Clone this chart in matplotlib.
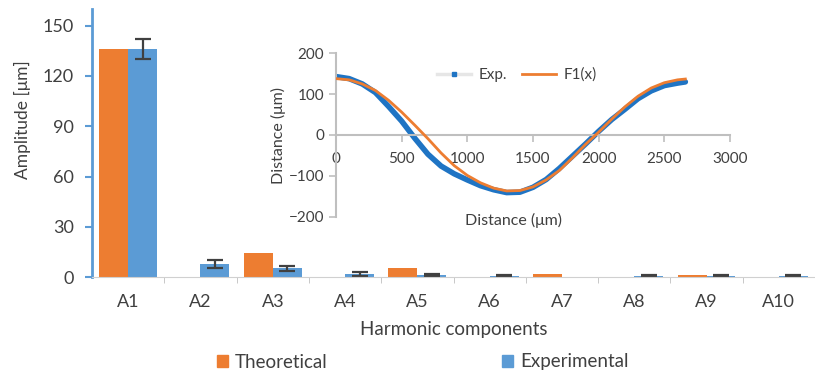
import numpy as np
import matplotlib
matplotlib.use("Agg")
import matplotlib.pyplot as plt
from matplotlib.lines import Line2D
from matplotlib.patches import Patch

plt.rcParams['font.family'] = ['Lato', 'DejaVu Sans']

# harmonic amplitudes (um)
harmonics = ['A1', 'A2', 'A3', 'A4', 'A5', 'A6', 'A7', 'A8', 'A9', 'A10']
theoretical = [136, 0, 14.5, 0, 5.3, 0, 1.8, 0, 1.0, 0]
experimental = [136, 7.8, 5.2, 1.8, 1.0, 0.4, 0, 0.4, 0.4, 0.4]
exp_err = [6, 2.2, 1.5, 1.0, 0.7, 0.5, np.nan, 0.5, 0.5, 0.5]

# profile along the sample (um)
dist = [0, 100, 200, 300, 400, 500, 600, 700, 800, 900, 1000, 1100, 1200, 1300,
        1400, 1500, 1600, 1700, 1800, 1900, 2000, 2100, 2200, 2300, 2400, 2500,
        2600, 2660]
exp_profile = [143, 138, 125, 104, 70, 34, -8, -47, -76, -95, -110, -124, -134,
               -141, -140, -128, -109, -82, -52, -22, 9, 38, 63, 89, 108, 121,
               127, 130]
f1_profile = [138, 135, 125, 109, 85, 56, 24, -9, -44, -75, -99, -117, -130,
              -137, -136, -127, -110, -87, -56, -23, 7, 39, 69, 95, 115, 128,
              135, 137]

orange = '#ED7D31'
blue = '#5B9BD5'
txt = '#404040'

W, H = 815, 376
fig = plt.figure(figsize=(W / 100, H / 100), dpi=100)

# main bar chart
x0, y0 = 92, 277
ax = fig.add_axes([x0 / W, 1 - y0 / H, (W - x0) / W, (y0 - 9) / H])
x = np.arange(len(harmonics))
bw = 0.4
ax.bar(x - bw / 2, theoretical, bw, color=orange, label='Theoretical')
ax.bar(x + bw / 2, experimental, bw, color=blue, label='Experimental')
ax.errorbar(x + bw / 2, experimental, yerr=exp_err, fmt='none', ecolor='#404040',
            elinewidth=1.6, capsize=5.5, capthick=1.6)

cat_w = 73.2
ax.set_xlim(-0.5, -0.5 + (W - x0) / cat_w)
ax.set_ylim(0, 160)
ax.set_yticks([0, 30, 60, 90, 120, 150])
ax.set_xticks(x)
ax.set_xticklabels(harmonics)
ax.set_xticks(np.arange(len(harmonics)) + 0.5, minor=True)
ax.tick_params(axis='x', which='major', length=0, pad=12, labelsize=13, colors=txt)
ax.tick_params(axis='x', which='minor', length=4, color='#BFBFBF')
ax.tick_params(axis='y', length=5, width=1.5, color=blue, labelsize=13,
               labelcolor=txt, pad=8)
for s in ['top', 'right']:
    ax.spines[s].set_visible(False)
ax.spines['left'].set_color(blue)
ax.spines['left'].set_linewidth(2)
ax.spines['bottom'].set_color('#D0D0D0')
ax.spines['bottom'].set_linestyle((0, (1, 1)))
ax.set_ylabel('Amplitude [μm]', fontsize=12.5, color=txt)
ax.yaxis.set_label_coords((31 - x0) / (W - x0), (y0 - 120) / (y0 - 9))
ax.set_xlabel('Harmonic components', fontsize=13.5, color=txt, labelpad=8)

fig.legend(handles=[Patch(color=orange), Patch(color=blue)],
           labels=['Theoretical', 'Experimental'], loc='center',
           bbox_to_anchor=(423 / W, 1 - 362 / H), ncol=2, frameon=False,
           fontsize=13.5, handlelength=0.55, handleheight=0.55, handletextpad=0.4,
           columnspacing=9.3, labelcolor=txt)

# inset with the measured and fitted profile
il, ir, it, ib = 336, 730, 53.3, 216.7
ins = fig.add_axes([il / W, 1 - ib / H, (ir - il) / W, (ib - it) / H])
ins.patch.set_alpha(0)
ins.plot(dist, exp_profile, color='#1F74C4', lw=4, solid_capstyle='round',
         zorder=2)
ins.plot(dist, f1_profile, color=orange, lw=2, zorder=3)
ins.set_xlim(0, 3000)
ins.set_ylim(-200, 200)
ins.set_xticks(range(0, 3001, 500))
ins.set_yticks(range(-200, 201, 100))
for s in ['top', 'right']:
    ins.spines[s].set_visible(False)
ins.spines['bottom'].set_position(('data', 0))
ins.spines['bottom'].set_color('#BFBFBF')
ins.spines['left'].set_color('#BFBFBF')
ins.spines['bottom'].set_linewidth(1.5)
ins.spines['left'].set_linewidth(1.5)
ins.tick_params(axis='both', length=5, width=1.2, color='#BFBFBF',
                labelsize=11, labelcolor=txt)
ins.tick_params(axis='x', pad=7)
ins.set_ylabel('Distance (μm)', fontsize=11.5, color=txt, labelpad=2)
ins.text(0.45, -0.025, 'Distance (μm)', transform=ins.transAxes, ha='center',
         va='center', fontsize=11.5, color=txt)

handles = [Line2D([], [], color='#E6E6E6', lw=2.5, marker='s', markersize=3.5,
                  markerfacecolor='#1F74C4', markeredgecolor='#1F74C4'),
           Line2D([], [], color=orange, lw=2)]
ins.legend(handles, ['Exp.', 'F1(x)'], loc='center',
           bbox_to_anchor=((517 - il) / (ir - il), (ib - 75) / (ib - it)),
           ncol=2, frameon=False, fontsize=11, handlelength=2.2,
           handletextpad=0.5, columnspacing=1.0, labelcolor=txt)

fig.savefig('out.png', dpi=100)
